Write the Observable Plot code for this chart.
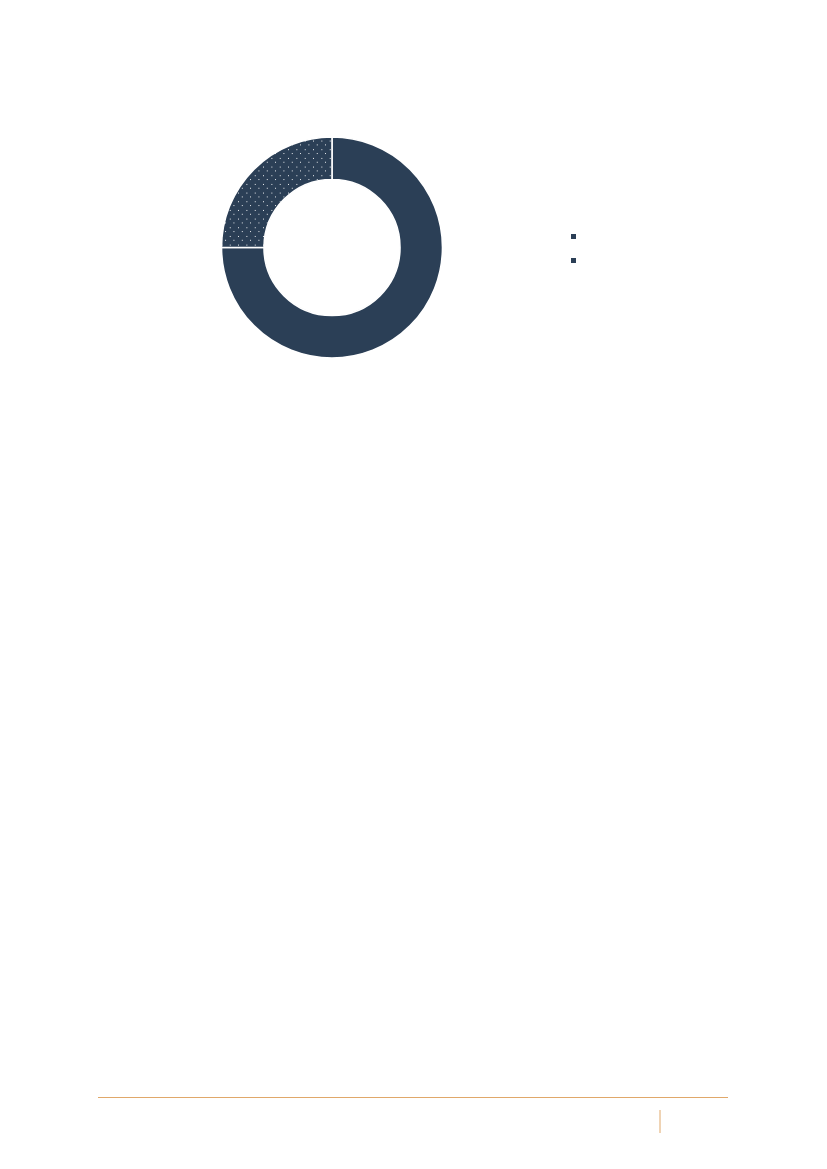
<!DOCTYPE html>
<html>
<head>
<meta charset="utf-8">
<script src="https://cdn.jsdelivr.net/npm/d3@7"></script>
<script src="https://cdn.jsdelivr.net/npm/@observablehq/plot@0.6"></script>
<style>
  html, body { margin: 0; padding: 0; background: #fff; }
  svg { display: block; }
</style>
</head>
<body>
<div id="chart"></div>
<script>
// ---- data ----
const categories = ["Serie 1", "Serie 2"];
const values = [75, 25];

// ---- layout / style ----
const pageW = 827, pageH = 1169;
const navy = "#2b3f56";
const accent = "#e0a86a";
const donutCenter = [332, 247.5];
const outerR = 110.5, innerR = 68;
const legendX = 571, legendY = 234, legendGap = 24, legendSize = 5;

const slices = categories.map((c, i) => ({category: c, value: values[i], index: i}));

function donutMark(index, scales, channels, dims, context) {
  const doc = context.document;
  const g = d3.select(doc.createElementNS(d3.namespaces.svg, "g"));
  const defs = g.append("defs");
  const pw = 8.33, ph = 8.67;
  const pat = defs.append("pattern")
    .attr("id", "dots")
    .attr("patternUnits", "userSpaceOnUse")
    .attr("x", 0.5).attr("y", 0)
    .attr("width", pw).attr("height", ph);
  pat.append("rect").attr("x", -1).attr("y", -1).attr("width", pw + 2).attr("height", ph + 2).attr("fill", navy);
  pat.append("rect").attr("x", 1).attr("y", 1).attr("width", 1).attr("height", 1)
    .attr("fill", "#fff").attr("shape-rendering", "crispEdges");
  pat.append("rect").attr("x", 1 + pw / 2).attr("y", 1 + ph / 2).attr("width", 1).attr("height", 1)
    .attr("fill", "#fff").attr("shape-rendering", "crispEdges");

  const cx = scales.x(donutCenter[0]);
  const cy = scales.y(donutCenter[1]);
  const rO = scales.x(donutCenter[0] + outerR) - cx;
  const rI = scales.x(donutCenter[0] + innerR) - cx;
  const pie = d3.pie().sort(null).value(d => d.value)(slices);
  const arc = d3.arc().innerRadius(rI).outerRadius(rO);
  const dg = g.append("g").attr("transform", `translate(${cx},${cy})`);
  dg.selectAll("path").data(pie).join("path")
    .attr("d", arc)
    .attr("fill", d => d.data.index === 0 ? navy : "url(#dots)")
    .attr("stroke", "#fff")
    .attr("stroke-width", 1.6);
  return g.node();
}

const chart = Plot.plot({
  width: pageW,
  height: pageH,
  margin: 0,
  x: {domain: [0, pageW], range: [0, pageW], axis: null},
  y: {domain: [0, pageH], range: [0, pageH], axis: null},
  style: {background: "#fff", overflow: "visible"},
  marks: [
    donutMark,
    Plot.rect(slices.filter(d => d.index === 0), {
      x1: () => legendX, x2: () => legendX + legendSize,
      y1: d => legendY + d.index * legendGap, y2: d => legendY + d.index * legendGap + legendSize,
      fill: navy
    }),
    Plot.rect(slices.filter(d => d.index === 1), {
      x1: () => legendX, x2: () => legendX + legendSize,
      y1: d => legendY + d.index * legendGap, y2: d => legendY + d.index * legendGap + legendSize,
      fill: navy
    }),
    Plot.ruleY([1097], {x1: 98, x2: 728, stroke: accent, strokeWidth: 1}),
    Plot.ruleX([659.5], {y1: 1110, y2: 1133, stroke: accent, strokeWidth: 1})
  ]
});
document.getElementById("chart").appendChild(chart);
</script>
</body>
</html>
